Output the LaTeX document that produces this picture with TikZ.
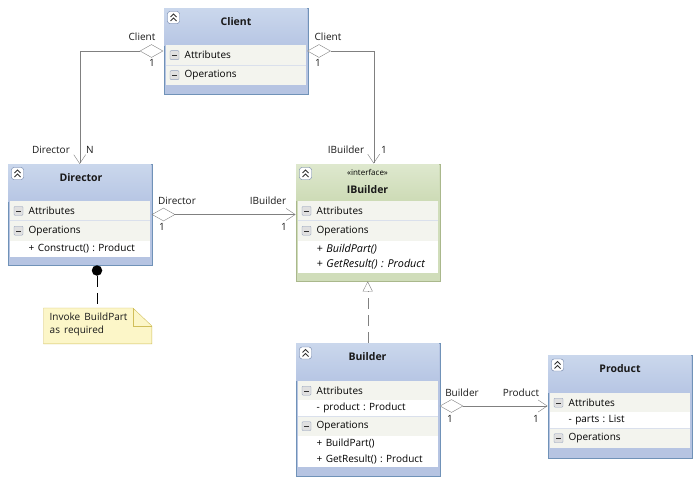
\documentclass[tikz,border=0pt]{standalone}
\usepackage{fontspec}
\setmainfont{Open Sans}[WordSpace=1.6]
\usetikzlibrary{arrows.meta, positioning, calc, shapes.geometric}
\definecolor{frameblue}{RGB}{112, 146, 184}
\definecolor{headtop}{RGB}{202, 215, 236}
\definecolor{headlow}{RGB}{183, 198, 228}
\definecolor{footblue}{RGB}{182, 196, 226}
\definecolor{framegreen}{RGB}{170, 184, 140}
\definecolor{greentop}{RGB}{222, 232, 206}
\definecolor{greenlow}{RGB}{205, 219, 182}
\definecolor{footgreen}{RGB}{208, 221, 186}
\definecolor{sectgrey}{RGB}{243, 244, 238}
\definecolor{sepline}{RGB}{218, 224, 236}
\definecolor{linkgrey}{RGB}{128, 128, 128}
\definecolor{notefill}{RGB}{252, 246, 200}
\definecolor{noteline}{RGB}{208, 190, 90}
\definecolor{iconline}{RGB}{96, 118, 160}

\begin{document}
\frenchspacing
\begin{tikzpicture}[
  x=1pt, y=-1pt,
  font=\fontsize{10}{15.5}\selectfont,
  classbox/.style={draw=frameblue, fill=footblue, anchor=north west, minimum width=144pt, inner sep=0pt},
  ifacebox/.style={classbox, draw=framegreen, fill=footgreen},
  head/.style={anchor=north west, minimum width=143pt, minimum height=36.5pt, inner sep=0pt, top color=headtop, bottom color=headlow},
  ifacehead/.style={head, top color=greentop, bottom color=greenlow},
  sect/.style={anchor=north west, fill=sectgrey, text width=140pt, inner xsep=0pt, inner ysep=0pt, align=left, execute at begin node={\leftskip=19pt\relax}},
  items/.style={sect, fill=white},
  abstract/.style={items, font=\fontsize{10.8}{15.5}\selectfont\itshape},
  classname/.style={font=\fontsize{10.5}{12}\selectfont\bfseries, text=black!90},
  stereo/.style={font=\fontsize{8}{10}\selectfont},
  role/.style={inner sep=0pt, text=black!90},
  seprule/.style={draw=sepline},
  assoc/.style={draw=linkgrey, -{Straight Barb[length=9pt, width=12pt]}},
  hollow/.style={diamond, draw=linkgrey, fill=white, minimum width=23pt, minimum height=13pt, inner sep=0pt},
  minusicon/.pic={
    \draw[iconline!70, fill=black!12, rounded corners=1pt] (-4.5,-4.5) rectangle (4.5,4.5);
    \draw[black!80] (-2.5,0) -- (2.5,0);
  },
  foldicon/.pic={
    \draw[iconline, fill=white, rounded corners=2.5pt] (-6,-6) rectangle (6,6);
    \draw[black!80, line width=.9pt] (-3,-.5) -- (0,-3.5) -- (3,-.5);
    \draw[black!80, line width=.9pt] (-3,3.5) -- (0,.5) -- (3,3.5);
  }
]
\useasboundingbox (0,0) rectangle (698,484);

% Client
\node[classbox, minimum height=86pt] (client) at (163.5,8) {};
\node[head] (clienthead) at (164,8.5) {};
\node[sect, minimum height=20pt] (clientattr) at (165.5,45) {Attributes};
\node[sect, minimum height=20pt] (clientops) at (165.5,65) {Operations};
\draw[seprule] (clientops.north west) -- (clientops.north east);
\node[classname] (clientname) at (236,22) {Client};

% Director
\node[classbox, minimum height=101pt] (director) at (7.5,164) {};
\node[head] (directorhead) at (8,164.5) {};
\node[sect, minimum height=19.5pt] (directorattr) at (9.5,201) {Attributes};
\node[sect, minimum height=20pt] (directorops) at (9.5,220.5) {Operations};
\node[items, minimum height=16pt] (directorlist) at (9.5,240.5) {+ Construct() : Product};
\draw[seprule] (directorops.north west) -- (directorops.north east);
\node[classname] (directorname) at (81,178) {Director};

% IBuilder
\node[ifacebox, minimum height=117.5pt] (ibuilder) at (295.5,163.5) {};
\node[ifacehead] (ibuilderhead) at (296,164) {};
\node[sect, minimum height=19.5pt] (ibuilderattr) at (297.5,201) {Attributes};
\node[sect, minimum height=20pt] (ibuilderops) at (297.5,220.5) {Operations};
\node[abstract, minimum height=32pt] (ibuilderlist) at (297.5,240.5) {+ BuildPart()\\+ GetResult() : Product};
\draw[seprule] (ibuilderops.north west) -- (ibuilderops.north east);
\node[stereo] (ibuildertag) at (367.5,172.5) {«interface»};
\node[classname] (ibuildername) at (367.5,190) {IBuilder};

% Builder
\node[classbox, minimum height=133pt] (builder) at (295.5,343) {};
\node[head] (builderhead) at (296,343.5) {};
\node[sect, minimum height=19pt] (builderattr) at (297.5,381) {Attributes};
\node[items, minimum height=16pt] (builderfields) at (297.5,400) {- product : Product};
\node[sect, minimum height=20pt] (builderops) at (297.5,416) {Operations};
\node[items, minimum height=31pt] (builderlist) at (297.5,436) {+ BuildPart()\\+ GetResult() : Product};
\draw[seprule] (builderops.north west) -- (builderops.north east);
\node[classname] (buildername) at (367.5,357) {Builder};

% Product
\node[classbox, minimum height=103pt] (product) at (547.5,355) {};
\node[head] (producthead) at (548,355.5) {};
\node[sect, minimum height=19pt] (productattr) at (549.5,393) {Attributes};
\node[items, minimum height=16pt] (productfields) at (549.5,412) {- parts : List};
\node[sect, minimum height=20pt] (productops) at (549.5,428) {Operations};
\draw[seprule] (productops.north west) -- (productops.north east);
\node[classname] (productname) at (620,369) {Product};

% collapse buttons
\pic at (173.5,17.5) {foldicon};
\pic at (17.5,173.5) {foldicon};
\pic at (305.5,173.5) {foldicon};
\pic at (305.5,353) {foldicon};
\pic at (557.5,365) {foldicon};
\foreach \sectname in {clientattr, clientops, directorattr, directorops, ibuilderattr, ibuilderops, builderattr, builderops, productattr, productops}
  \pic at ([xshift=9pt]\sectname.west) {minusicon};

% note
\node[anchor=north west, minimum width=108pt, minimum height=35.5pt, inner sep=0pt] (note) at (43.5,308) {};
\draw[noteline, fill=notefill] (note.north west) -- ([xshift=-19pt]note.north east) -- ([yshift=-18pt]note.north east)
  -- (note.south east) -- (note.south west) -- cycle;
\draw[noteline] ([xshift=-19pt]note.north east) -- ([xshift=-19pt, yshift=-18pt]note.north east) -- ([yshift=-18pt]note.north east);
\node[anchor=west, align=left, inner sep=0pt, font=\fontsize{10}{13}\selectfont, text=black!90] (notetext) at (49.5,324.5) {Invoke BuildPart\\as required};
\node[circle, fill=black, minimum size=10.5pt, inner sep=0pt] (dot) at (97,270.5) {};
\draw[black, dash pattern=on 11pt off 6pt] (dot) -- (dot |- note.north);

% links
\node[hollow] (clientleft) at (151.5,51) {};
\node[hollow] (clientright) at (319,51) {};
\node[hollow] (directoragg) at (163.5,214.5) {};
\node[hollow] (builderagg) at (451.5,406) {};
\draw[assoc] (clientleft.west) -| (director.north);
\draw[assoc] (clientright.east) -| ([xshift=6pt]ibuilder.north);
\draw[assoc] (directoragg.east) -- (directoragg.east -| ibuilder.west);
\draw[assoc] (builderagg.east) -- (builderagg.east -| product.west);
\draw[linkgrey, dash pattern=on 11pt off 6pt, -{Triangle[open, fill=white, length=10pt, width=10pt]}] (builder.north) -- (ibuilder.south);

% role names
\node[role] (r1) at (142,37) {Client};
\node[role] (r2) at (152,63) {1};
\node[role] (r3) at (328,37) {Client};
\node[role] (r4) at (318,63) {1};
\node[role] (r5) at (51,150) {Director};
\node[role] (r6) at (90,150) {N};
\node[role] (r7) at (346,150) {IBuilder};
\node[role] (r8) at (384,150) {1};
\node[role] (r9) at (177,201) {Director};
\node[role] (r10) at (162,227) {1};
\node[role] (r11) at (268,201) {IBuilder};
\node[role] (r12) at (284,227) {1};
\node[role] (r13) at (462,393) {Builder};
\node[role] (r14) at (450,419) {1};
\node[role] (r15) at (521,393) {Product};
\node[role] (r16) at (536,419) {1};
\end{tikzpicture}
\end{document}
